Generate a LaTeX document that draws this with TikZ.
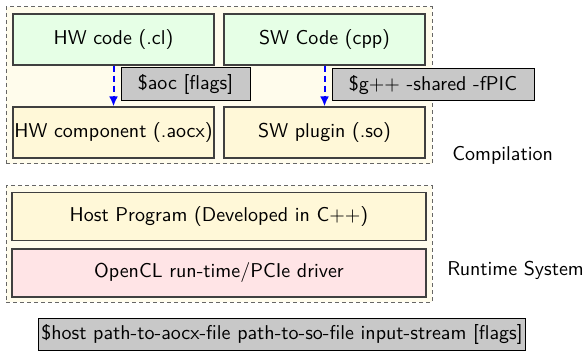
\documentclass[tikz,border=0pt]{standalone}
\usetikzlibrary{arrows.meta}
\definecolor{outerfill}{HTML}{FFFCEC}
\definecolor{greenfill}{HTML}{E6FFE6}
\definecolor{yellowfill}{HTML}{FFF8D8}
\definecolor{pinkfill}{HTML}{FFE4E6}
\definecolor{grayfill}{HTML}{C8C8C8}
\definecolor{borderc}{HTML}{404040}
\begin{document}
\begin{tikzpicture}[x=0.5pt,y=-0.5pt,font=\sffamily,
  group/.style={draw=borderc!80, dash pattern=on 2pt off 1.5pt, fill=outerfill, line width=0.5pt, inner sep=0pt},
  blk/.style={draw=borderc, line width=0.6pt, inner sep=0pt, minimum width=100.5pt, minimum height=25.5pt},
  cmd/.style={draw=black, fill=grayfill, line width=0.5pt, inner sep=1.5pt},
  flow/.style={draw=blue, line width=1pt, dash pattern=on 3pt off 2pt, -{Latex[length=5pt,width=4.5pt]}}]
\useasboundingbox (0,0) rectangle (587,357);
% compilation group
\node[group, minimum width=213pt, minimum height=78.5pt] (comp) at (219,85.5) {};
\node[blk, fill=greenfill] (hw) at (113.5,39.5) {HW code (.cl)};
\node[blk, fill=greenfill] (sw) at (324.5,39.5) {SW Code (cpp)};
\node[blk, fill=yellowfill] (hwc) at (113.5,132.5) {HW component (.aocx)};
\node[blk, fill=yellowfill] (swp) at (324.5,132.5) {SW plugin (.so)};
\draw[flow] (hw.south) -- (hwc.north);
\draw[flow] (sw.south) -- (swp.north);
\node[cmd, minimum width=64.5pt, minimum height=16.5pt] (aoc) at (185.5,84.5) {\$aoc [flags]};
\node[cmd, minimum width=101pt, minimum height=16pt] (gpp) at (433,85) {\$g$++$ -shared -fPIC};
\node[anchor=west, inner sep=0pt] (complbl) at (452,155) {Compilation};
% runtime group
\node[group, minimum width=213pt, minimum height=58pt] (rt) at (219,244) {};
\node[blk, fill=yellowfill, minimum width=207pt, minimum height=24pt] (host) at (219,216.5) {Host Program (Developed in C$++$)};
\node[blk, fill=pinkfill, minimum width=207pt, minimum height=24pt] (ocl) at (219,273) {OpenCL run-time/PCIe driver};
\node[anchor=west, inner sep=0pt] (rtlbl) at (447,270) {Runtime System};
\node[cmd, minimum width=240pt, minimum height=16pt] (hostcmd) at (282,334) {\$host path-to-aocx-file path-to-so-file input-stream [flags]};
\end{tikzpicture}
\end{document}
